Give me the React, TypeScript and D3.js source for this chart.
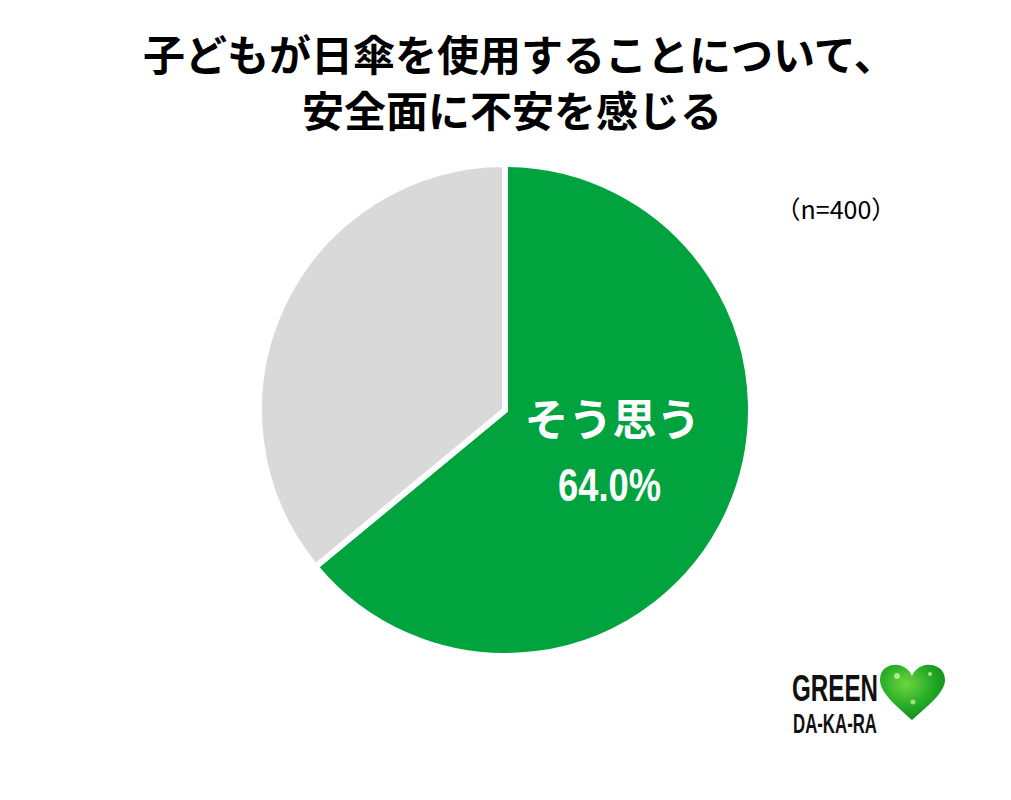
import React from 'react';
import * as d3 from 'd3';

// chart data
const categories = ['そう思う', 'そう思わない'];
const values = [64.0, 36.0];
const colors = ['#00a33e', '#d9d9d9'];
const titleLines = ['子どもが日傘を使用することについて、', '安全面に不安を感じる'];
const sampleLabel = '（n=400）';

const width = 1011;
const height = 800;
const cx = 505;
const cy = 410;
const radius = 246;

export default function App() {
  const pie = d3.pie<number>().sort(null).startAngle(0).endAngle(2 * Math.PI);
  const arcs = pie(values);
  const arc = d3.arc<d3.PieArcDatum<number>>().innerRadius(0).outerRadius(radius);
  const labelArc = d3.arc<d3.PieArcDatum<number>>().innerRadius(radius * 0.47).outerRadius(radius * 0.47);
  const [lx, ly] = labelArc.centroid(arcs[0]);

  const jp = '"Noto Sans CJK JP", "Noto Sans", sans-serif';
  const narrow = '"Liberation Sans Narrow", "Liberation Sans", sans-serif';

  return (
    <svg width={width} height={height} style={{ position: 'absolute', left: 0, top: 0 }}>
      <rect width={width} height={height} fill="#fff" />
      <defs>
        <radialGradient id="heartGrad" cx="40%" cy="35%" r="70%">
          <stop offset="0%" stopColor="#6fd63e" />
          <stop offset="55%" stopColor="#27ad27" />
          <stop offset="100%" stopColor="#0d8a1c" />
        </radialGradient>
      </defs>

      {titleLines.map((t, i) => (
        <text
          key={i}
          x={i === 0 ? 143 : 302}
          y={71 + i * 56}
          fontFamily={jp}
          fontWeight={700}
          fontSize={42}
          fill="#000"
        >
          {t}
        </text>
      ))}

      <text x={836} y={219} textAnchor="middle" fontFamily={jp} fontSize={25} fill="#000">
        {sampleLabel}
      </text>

      <g transform={`translate(${cx},${cy})`}>
        {arcs.map((a, i) => (
          <path key={categories[i]} d={arc(a) || ''} fill={colors[i]} stroke="#fff" strokeWidth={6} strokeLinejoin="miter" />
        ))}
        <text x={lx + 3} y={ly - 23} textAnchor="middle" fontFamily={jp} fontWeight={700} fontSize={44} fill="#fff">
          {categories[0]}
        </text>
        {/* condensed percentage, as in the original */}
        <g transform={`translate(${lx},${ly + 42}) scale(0.79,1)`}>
          <text textAnchor="middle" fontFamily={narrow} fontWeight={700} fontSize={46} fill="#fff">
            {values[0].toFixed(1)}%
          </text>
        </g>
      </g>

      <g>
        <text
          x={792}
          y={701}
          fontFamily={narrow}
          fontWeight={700}
          fontSize={37}
          textLength={86}
          lengthAdjust="spacingAndGlyphs"
          fill="#111"
        >
          GREEN
        </text>
        <text
          x={793}
          y={733}
          fontFamily={narrow}
          fontWeight={700}
          fontSize={27}
          textLength={84}
          lengthAdjust="spacingAndGlyphs"
          fill="#111"
        >
          DA-KA-RA
        </text>
        <path
          d="M912,720 C895,705 880,692 880,680 C880,668 890,664 898,665 C905,666 910,671 912,676 C914,671 919,666 926,665 C934,664 945,668 945,680 C945,692 929,705 912,720 Z"
          fill="url(#heartGrad)"
        />
        <circle cx={897} cy={676} r={3} fill="#c9f5a8" opacity={0.8} />
        <circle cx={930} cy={674} r={2} fill="#c9f5a8" opacity={0.8} />
        <circle cx={913} cy={702} r={2.5} fill="#c9f5a8" opacity={0.7} />
      </g>
    </svg>
  );
}
